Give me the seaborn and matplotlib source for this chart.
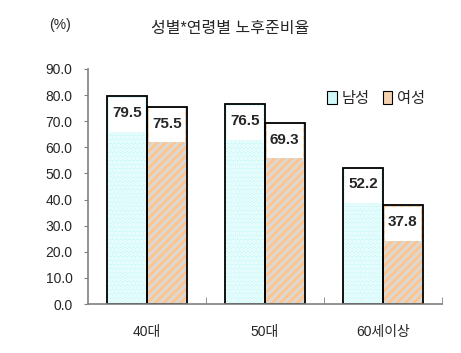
import matplotlib
matplotlib.use("Agg")
import matplotlib.pyplot as plt
import seaborn as sns
import pandas as pd
from matplotlib.patches import Rectangle, Patch
from matplotlib.ticker import FixedLocator

categories = ["40대", "50대", "60세이상"]
series_names = ["남성", "여성"]
male = [79.5, 76.5, 52.2]
female = [75.5, 69.3, 37.8]
yticks = [0, 10, 20, 30, 40, 50, 60, 70, 80, 90]
title = "성별*연령별 노후준비율"
unit = "(%)"

sns.set_style("white")
plt.rcParams["font.family"] = ["Liberation Sans", "Noto Sans CJK KR", "DejaVu Sans"]
plt.rcParams["hatch.linewidth"] = 2.0

df = pd.DataFrame({
    "cat": categories * 2,
    "sex": [series_names[0]] * 3 + [series_names[1]] * 3,
    "val": male + female,
})

fig = plt.figure(figsize=(4.61, 3.53), dpi=100)
ax = fig.add_axes([88/461, 1-304/353, (442-88)/461, (304-69)/353])

face = {"남성": "#CFF8F8", "여성": "#DCD8D4"}
hatchc = {"남성": "#F4FFFF", "여성": "#FFC48C"}
hatches = {"남성": "....", "여성": "////"}

# pass 1: filled + hatch
sns.barplot(data=df, x="cat", y="val", hue="sex", order=categories,
            hue_order=series_names, palette=face, width=0.67,
            ax=ax, legend=False, saturation=1)
n = len(categories)
for i, p in enumerate(ax.patches):
    s = series_names[i // n]
    p.set_hatch(hatches[s])
    p.set_edgecolor(hatchc[s])
    p.set_linewidth(0)

# pass 2: black outlines
sns.barplot(data=df, x="cat", y="val", hue="sex", order=categories,
            hue_order=series_names, palette=face, width=0.67,
            ax=ax, legend=False, fill=False, saturation=1)
outline = ax.patches[2*n:]
for p in outline:
    p.set_edgecolor("black")
    p.set_linewidth(1.3)
    p.set_facecolor("none")

# label boxes
for p in outline[:2*n]:
    x0, w, h = p.get_x(), p.get_width(), p.get_height()
    ax.add_patch(Rectangle((x0 + 0.04*w, h - 13.5), 0.92*w, 13.0,
                           facecolor="white", edgecolor="none", zorder=3))
    ax.text(x0 + w/2, h - 6.4, f"{h:.1f}", ha="center", va="center",
            fontsize=11, fontweight="bold", zorder=4)

ax.set_ylim(0, 90)
ax.set_xlim(-0.5, 2.5)
ax.set_yticks(yticks)
ax.set_yticklabels([f"{v:.1f}" for v in yticks], fontsize=10)
ax.set_xlabel("")
ax.set_ylabel("")
ax.set_xticks(range(n))
ax.set_xticklabels(categories, fontsize=10)
ax.xaxis.set_minor_locator(FixedLocator([0.5, 1.5, 2.5]))
ax.tick_params(axis="x", which="major", length=0, pad=15)
ax.tick_params(axis="x", which="minor", direction="in", length=5, color="#808080", bottom=True)
ax.tick_params(axis="y", direction="out", length=3, color="#808080", left=True, pad=8)
for sp in ["top", "right"]:
    ax.spines[sp].set_visible(False)
for sp in ["left", "bottom"]:
    ax.spines[sp].set_color("#808080")
    ax.spines[sp].set_linewidth(1.2)

legface = {"남성": "#CFF8F8", "여성": "#F6D2B0"}
handles = [Patch(facecolor=legface[s], edgecolor="black", linewidth=0.8) for s in series_names]
leg = ax.legend(handles, series_names, loc="center right", bbox_to_anchor=(0.99, 0.875),
                ncol=2, frameon=False, handlelength=0.6, handleheight=0.9,
                handletextpad=0.3, columnspacing=0.9, fontsize=11)

fig.text(0.50, 0.92, title, ha="center", va="center", fontsize=11.5, fontweight="medium")
fig.text(0.13, 0.93, unit, ha="center", va="center", fontsize=10)

fig.savefig("out.png", dpi=100)
